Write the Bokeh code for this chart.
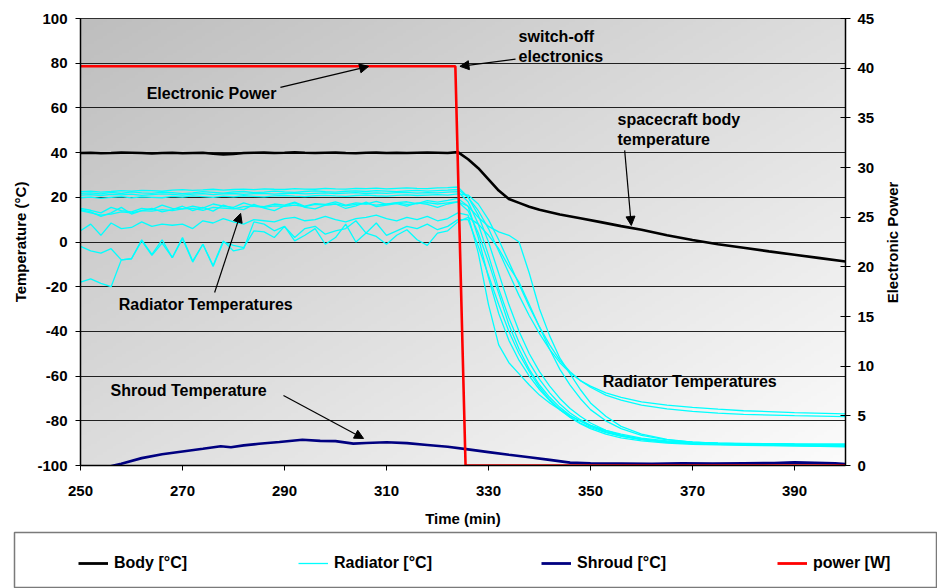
import numpy as np
from math import pi
from bokeh.plotting import figure
from bokeh.models import (Range1d, LinearAxis, FixedTicker, Label, Arrow, NormalHead,
                          Legend, LegendItem, NumeralTickFormatter)
from bokeh.layouts import column, row
from bokeh.embed import file_html
from bokeh.resources import INLINE

FONT = "Liberation Sans"

# ---------------- data ----------------
time_ticks = [250, 270, 290, 310, 330, 350, 370, 390]
temp_ticks = [-100, -80, -60, -40, -20, 0, 20, 40, 60, 80, 100]
power_ticks = [0, 5, 10, 15, 20, 25, 30, 35, 40, 45]

power_time = [250, 323.5, 325.5, 400]
power_w = [40.2, 40.2, 0.0, 0.0]

body_time = [250, 252, 254, 256, 258, 260, 262, 264, 266, 268, 270, 272, 274, 276, 278, 280,
             282, 284, 286, 288, 290, 292, 294, 296, 298, 300, 302, 304, 306, 308, 310, 312,
             314, 316, 318, 320, 322, 324,
             326, 328, 330, 332, 334, 336, 338, 340, 344, 348, 352, 356, 360, 365, 370, 375,
             380, 385, 390, 395, 400]
body_temp = [39.8, 39.9, 39.7, 39.8, 40.0, 39.9, 39.8, 39.6, 39.8, 39.9, 39.7, 39.8, 39.9,
             39.5, 39.2, 39.4, 39.8, 39.9, 40.0, 39.8, 39.9, 40.1, 39.9, 39.8, 39.9, 40.0,
             39.8, 39.7, 39.9, 40.0, 39.8, 39.9, 39.8, 39.9, 40.0, 39.9, 39.8, 40.2,
             37.0, 33.0, 28.0, 23.0, 19.2, 17.5, 15.8, 14.4, 12.3, 10.6, 8.9, 7.1, 5.5, 3.0,
             0.9, -1.0, -2.6, -4.2, -5.7, -7.2, -8.7]

shroud_time = [250, 254, 256.5, 258, 262, 266, 270, 274, 277.5, 279.5, 282, 285, 289, 293.5,
               297, 300, 303.5, 306, 310, 314, 318, 322, 326, 330, 334, 338, 342, 346, 350,
               356, 362, 368, 374, 380, 386, 390, 394, 398, 400]
shroud_temp = [-104, -101.5, -100, -99.2, -96.7, -95.0, -93.7, -92.5, -91.4, -91.8, -91.0,
               -90.3, -89.5, -88.5, -89.0, -89.1, -90.2, -89.9, -89.6, -90.0, -90.8, -91.6,
               -92.8, -94.0, -95.2, -96.3, -97.5, -98.7, -99.0, -99.1, -99.2, -99.0, -99.1,
               -99.0, -98.9, -98.6, -98.8, -99.0, -99.3]

radiator_time = [250, 252, 254, 256, 258, 260, 262, 264, 266, 268, 270, 272, 274, 276, 278,
                 280, 282, 284, 286, 288, 290, 292, 294, 296, 298, 300, 302, 304, 306, 308,
                 310, 312, 314, 316, 318, 320, 322, 324,
                 326, 328, 330, 332, 334, 336, 338, 340, 342, 344, 346, 348, 350, 353, 356,
                 360, 365, 370, 375, 380, 390, 400]

radiator_1 = [22.5, 22.8, 22.3, 22.6, 23.0, 22.8, 23.1, 23.0, 22.7, 23.2, 23.4, 23.1, 23.3,
              23.6, 23.2, 23.5, 23.7, 23.4, 23.8, 23.6, 23.5, 23.9, 23.7, 23.6, 24.0, 23.8,
              23.7, 24.0, 23.9, 24.1, 23.8, 24.0, 24.2, 24.0, 23.9, 24.2, 24.3, 24.6,
              20.0, 14.0, 6.0, -4.0, -14.0, -24.0, -33.0, -41.0, -48.0, -54.0, -58.5, -62.0,
              -64.5, -67.5, -69.5, -71.5, -73.0, -74.0, -74.8, -75.5, -76.3, -76.9]
radiator_2 = [21.8, 22.0, 21.5, 22.2, 21.7, 22.4, 22.0, 21.8, 22.3, 22.1, 21.6, 22.0, 22.5,
              22.2, 21.9, 22.4, 22.6, 22.1, 22.3, 22.8, 22.4, 22.2, 22.6, 22.9, 22.5, 22.3,
              22.7, 22.9, 22.6, 23.0, 22.8, 22.5, 22.9, 23.1, 22.8, 23.0, 23.2, 23.5,
              20.0, 12.0, 0.0, -14.0, -28.0, -40.0, -50.0, -58.0, -64.5, -70.0, -74.5, -78.0,
              -81.0, -84.3, -86.4, -88.3, -89.6, -90.2, -90.5, -90.7, -90.9, -91.0]
radiator_3 = [19.8, 20.1, 19.5, 20.0, 20.3, 19.7, 20.2, 20.0, 19.8, 20.4, 20.1, 20.6, 20.3,
              20.0, 20.5, 20.2, 20.7, 20.4, 20.2, 20.6, 20.8, 20.5, 20.3, 20.7, 20.9, 20.6,
              20.4, 20.8, 21.0, 20.7, 20.5, 20.9, 21.1, 20.8, 21.0, 21.2, 21.0, 21.5,
              21.0, 17.0, 10.0, 1.0, -9.0, -19.0, -29.0, -38.0, -46.0, -53.0, -58.0, -62.0,
              -65.0, -68.5, -70.8, -73.0, -74.7, -75.8, -76.6, -77.1, -77.7, -78.1]
radiator_4 = [21.0, 21.2, 20.8, 21.3, 21.1, 21.4, 20.9, 21.2, 21.5, 21.3, 21.0, 21.4, 21.6,
              21.2, 21.5, 21.7, 21.3, 21.6, 21.8, 21.4, 21.7, 21.9, 21.5, 21.8, 22.0, 21.6,
              21.9, 22.1, 21.7, 22.0, 21.8, 22.1, 22.2, 21.9, 22.1, 22.0, 22.3, 22.5,
              18.0, 8.0, -6.0, -21.0, -34.0, -45.0, -54.0, -61.5, -67.5, -72.5, -76.5, -79.5,
              -82.0, -84.8, -86.6, -88.2, -89.4, -89.9, -90.2, -90.4, -90.6, -90.8]
radiator_5 = [15.0, 14.2, 13.0, 15.5, 14.0, 13.5, 15.0, 14.5, 16.5, 15.0, 14.8, 16.0, 15.2,
              17.0, 16.0, 15.5, 17.5, 16.2, 15.8, 17.0, 16.5, 17.8, 16.0, 17.2, 16.8, 18.0,
              16.5, 17.5, 17.0, 18.2, 16.8, 17.6, 18.0, 17.2, 18.5, 17.8, 18.6, 19.5,
              16.0, 2.0, -16.0, -32.0, -44.0, -53.0, -60.0, -66.0, -71.0, -75.0, -78.3, -81.0,
              -83.0, -85.3, -86.9, -88.4, -89.5, -90.1, -90.5, -90.7, -91.0, -91.2]
radiator_6 = [14.5, 13.5, 11.5, 13.0, 15.5, 12.5, 14.0, 15.0, 13.5, 14.5, 16.0, 14.0, 15.5,
              13.8, 16.5, 15.0, 14.5, 16.8, 15.2, 14.0, 16.2, 17.5, 15.5, 14.8, 16.5, 17.0,
              15.0, 16.2, 17.8, 15.8, 16.5, 17.2, 16.0, 17.5, 16.8, 15.5, 17.0, 18.0,
              16.0, 11.0, 7.0, 4.5, 3.0, 0.0, -14.0, -30.0, -42.0, -52.0, -59.0, -66.0,
              -72.0, -78.0, -82.5, -86.0, -88.3, -89.5, -90.2, -90.6, -91.2, -91.6]
radiator_7 = [14.0, 13.0, 12.0, 12.5, 13.5, 13.0, 14.0, 13.8, 14.5, 14.0, 14.8, 15.0, 14.2,
              15.5, 15.2, 14.8, 15.8, 16.0, 15.5, 16.2, 16.0, 16.5, 15.8, 16.8, 16.5, 17.0,
              16.2, 16.8, 17.2, 16.5, 17.0, 17.5, 16.8, 17.2, 17.6, 17.0, 17.5, 18.0,
              14.0, 4.0, -9.0, -23.0, -37.0, -48.0, -57.0, -64.0, -69.5, -74.0, -77.5, -80.2,
              -82.5, -85.0, -86.8, -88.3, -89.3, -89.8, -90.0, -90.1, -90.3, -90.4]
radiator_8 = [5.0, 8.0, 3.0, 8.5, 6.0, 6.5, 9.0, 7.0, 8.0, 7.5, 8.0, 6.0, 9.5, 8.5, 10.5,
              9.0, 8.0, 10.0, 9.5, 9.0, 10.5, 11.0, 9.5, 10.0, 11.5, 10.0, 9.0, 10.5, 11.0,
              12.0, 10.5, 9.5, 11.0, 10.0, 11.5, 9.5, 10.5, 13.0,
              12.0, -5.0, -28.0, -46.0, -54.0, -59.0, -64.0, -68.5, -72.0, -75.0, -77.8,
              -80.0, -82.0, -84.3, -86.0, -87.8, -89.0, -89.6, -90.0, -90.2, -90.4, -90.5]
radiator_9 = [-2.0, -4.0, -5.0, -3.0, -8.0, -7.5, 1.0, -5.5, 1.0, -7.0, 2.0, -8.5, -1.0,
              -10.5, 0.5, -4.0, -3.0, 9.0, 8.0, 5.0, 7.0, 2.0, 6.0, 7.0, 3.5, 5.0, 6.0, 9.5,
              4.0, 8.5, 3.0, 5.0, 7.0, 6.0, 8.0, 5.5, 7.0, 10.0,
              10.0, -2.0, -15.0, -28.0, -40.0, -50.0, -58.0, -65.0, -70.5, -75.0, -78.5,
              -81.3, -83.5, -86.0, -87.6, -89.0, -90.0, -90.5, -90.8, -91.0, -91.2, -91.4]
radiator_10 = [-18.0, -16.5, -18.5, -20.0, -8.0, -7.5, 0.5, -6.0, -0.5, -7.0, 1.5, -9.0,
               -1.0, -11.0, 0.0, -1.5, -2.5, 5.0, 4.5, 2.0, 7.0, 0.5, 3.0, 6.0, -1.0, 2.0,
               8.0, 0.0, 4.0, 2.5, -1.0, 3.0, 5.5, 1.0, -1.5, 4.0, 5.0, 9.0,
               11.0, 8.0, 3.0, -3.0, -11.0, -18.0, -28.0, -38.0, -48.0, -57.0, -64.0, -70.0,
               -75.0, -80.0, -83.5, -86.5, -88.5, -89.5, -90.0, -90.3, -90.6, -90.8]
radiators = [radiator_1, radiator_2, radiator_3, radiator_4, radiator_5,
             radiator_6, radiator_7, radiator_8, radiator_9, radiator_10]

legend_labels = ["Body [°C]", "Radiator [°C]", "Shroud [°C]", "power [W]"]

# ---------------- styles ----------------
C_BODY, C_RAD, C_SHROUD, C_POWER = "#000000", "#00ffff", "#000080", "#ff0000"
x_min, x_max = 250, 400
y_min, y_max = -100, 100
CHART_W, CHART_H = 880, 531

p = figure(width=CHART_W, height=CHART_H, x_range=Range1d(x_min, x_max),
           y_range=Range1d(y_min, y_max), toolbar_location=None, output_backend="svg",
           min_border_left=80, min_border_right=35, min_border_top=18, min_border_bottom=66)
p.extra_y_ranges = {"power": Range1d(0, 45)}

# diagonal grey gradient background of the plot area
nx, ny = 240, 160
u = np.linspace(0, 1, nx)[None, :]
w = np.linspace(0, 1, ny)[:, None]
shade = (190 + 62 * (u + (1 - w)) / 2).astype(np.uint8)
img = np.empty((ny, nx), dtype=np.uint32)
view = img.view(dtype=np.uint8).reshape((ny, nx, 4))
view[:, :, 0] = shade
view[:, :, 1] = shade
view[:, :, 2] = shade
view[:, :, 3] = 255
p.image_rgba(image=[img], x=x_min, y=y_min, dw=x_max - x_min, dh=y_max - y_min, level="image")

p.background_fill_color = "#d8d8d8"
p.border_fill_color = "white"
p.outline_line_color = "black"
p.outline_line_width = 1

p.xgrid.visible = False
p.ygrid.ticker = FixedTicker(ticks=temp_ticks)
p.ygrid.grid_line_color = "black"
p.ygrid.grid_line_alpha = 0.85
p.ygrid.grid_line_width = 1

xax = p.xaxis[0]
lax = p.yaxis[0]
rax = LinearAxis(y_range_name="power")
p.add_layout(rax, "right")

for ax in (xax, lax, rax):
    ax.major_label_text_font = FONT
    ax.major_label_text_font_style = "bold"
    ax.major_label_text_font_size = "15px"
    ax.major_label_text_color = "black"
    ax.axis_label_text_font = FONT
    ax.axis_label_text_font_style = "bold"
    ax.axis_label_text_font_size = "15px"
    ax.axis_label_text_color = "black"
    ax.axis_line_color = "black"
    ax.axis_line_width = 1.5
    ax.major_tick_line_color = "black"
    ax.major_tick_in = 0
    ax.major_tick_out = 5
    ax.minor_tick_line_color = None
    ax.formatter = NumeralTickFormatter(format="0")

xax.ticker = FixedTicker(ticks=time_ticks)
lax.ticker = FixedTicker(ticks=temp_ticks)
rax.ticker = FixedTicker(ticks=power_ticks)
xax.axis_label = "Time (min)"
lax.axis_label = "Temperature (°C)"
xax.major_label_standoff = 15
xax.axis_label_standoff = 11
lax.major_label_standoff = 8
lax.axis_label_standoff = 5
rax.major_tick_in = 5
rax.major_label_standoff = 7

# ---------------- series ----------------
for series in radiators:
    p.line(radiator_time, series, line_color=C_RAD, line_width=1.3)
p.line(body_time, body_temp, line_color=C_BODY, line_width=2.6)
p.line(shroud_time, shroud_temp, line_color=C_SHROUD, line_width=2.6)
p.line(power_time, power_w, line_color=C_POWER, line_width=2.6, y_range_name="power")

# ---------------- annotations ----------------
def lab(x, y, text, align="left"):
    p.add_layout(Label(x=x, y=y, text=text, text_font=FONT, text_font_style="bold",
                       text_font_size="16px", text_color="black", text_align=align,
                       text_baseline="middle"))

lab(275.7, 66.5, "Electronic Power", align="center")
lab(335.9, 92.1, "switch-off")
lab(335.9, 83.1, "electronics")
lab(355.3, 54.9, "spacecraft body")
lab(355.3, 45.9, "temperature")
lab(257.5, -27.9, "Radiator Temperatures")
lab(255.9, -66.5, "Shroud Temperature")
lab(352.4, -62.4, "Radiator Temperatures")

def arrow(x0, y0, x1, y1):
    p.add_layout(Arrow(end=NormalHead(size=9, fill_color="black", line_color="black"),
                       x_start=x0, y_start=y0, x_end=x1, y_end=y1,
                       line_color="black", line_width=1.2))

arrow(289.2, 69.2, 306.5, 78.6)
arrow(335.3, 81.8, 324.4, 78.6)
arrow(356.7, 41.0, 358.0, 7.4)
arrow(276.3, -22.6, 281.4, 12.8)
arrow(289.8, -68.7, 305.5, -87.9)

# ---------------- right-axis title strip (reads bottom-to-top) ----------------
RT_W = 937 - CHART_W
rt = figure(width=RT_W, height=CHART_H, x_range=Range1d(0, RT_W), y_range=Range1d(0, CHART_H),
            toolbar_location=None, output_backend="svg", x_axis_type=None, y_axis_type=None,
            min_border_left=0, min_border_right=0, min_border_top=0, min_border_bottom=0)
rt.outline_line_color = None
rt.background_fill_color = "white"
rt.border_fill_color = "white"
rt.add_layout(Label(x=12, y=CHART_H - 242, text="Electronic Power", text_font=FONT,
                    text_font_style="bold", text_font_size="15px", text_color="black",
                    text_align="center", text_baseline="middle", angle=pi / 2))

# ---------------- legend box (separate strip below the chart) ----------------
lf = figure(width=937, height=588 - CHART_H, x_range=Range1d(0, 1), y_range=Range1d(0, 1),
            toolbar_location=None, output_backend="svg", x_axis_type=None, y_axis_type=None,
            min_border_left=14, min_border_right=0, min_border_top=1, min_border_bottom=0)
lf.outline_line_color = "#7a7a7a"
lf.outline_line_width = 1.5
lf.background_fill_color = "white"

for fig in (p, rt, lf):
    if "frame_align" in fig.properties():
        fig.frame_align = False

leg_specs = [(C_BODY, 2.8), (C_RAD, 1.3), (C_SHROUD, 2.8), (C_POWER, 2.8)]
leg_x = [64, 284, 527, 763]
for (col, lw), lbl, lx in zip(leg_specs, legend_labels, leg_x):
    r = lf.line(x=[5, 6], y=[5, 6], line_color=col, line_width=lw)
    lg = Legend(items=[LegendItem(label=lbl, renderers=[r])], location=(lx, 16),
                orientation="horizontal", glyph_width=30, glyph_height=16, label_height=16,
                label_standoff=6, padding=0, margin=0, border_line_alpha=0,
                background_fill_alpha=0, label_text_font=FONT, label_text_font_style="bold",
                label_text_font_size="16px", label_text_color="black")
    lf.add_layout(lg)

layout = column(row(p, rt, spacing=0), lf, spacing=0)
open("out.html", "w").write(file_html(layout, INLINE))
